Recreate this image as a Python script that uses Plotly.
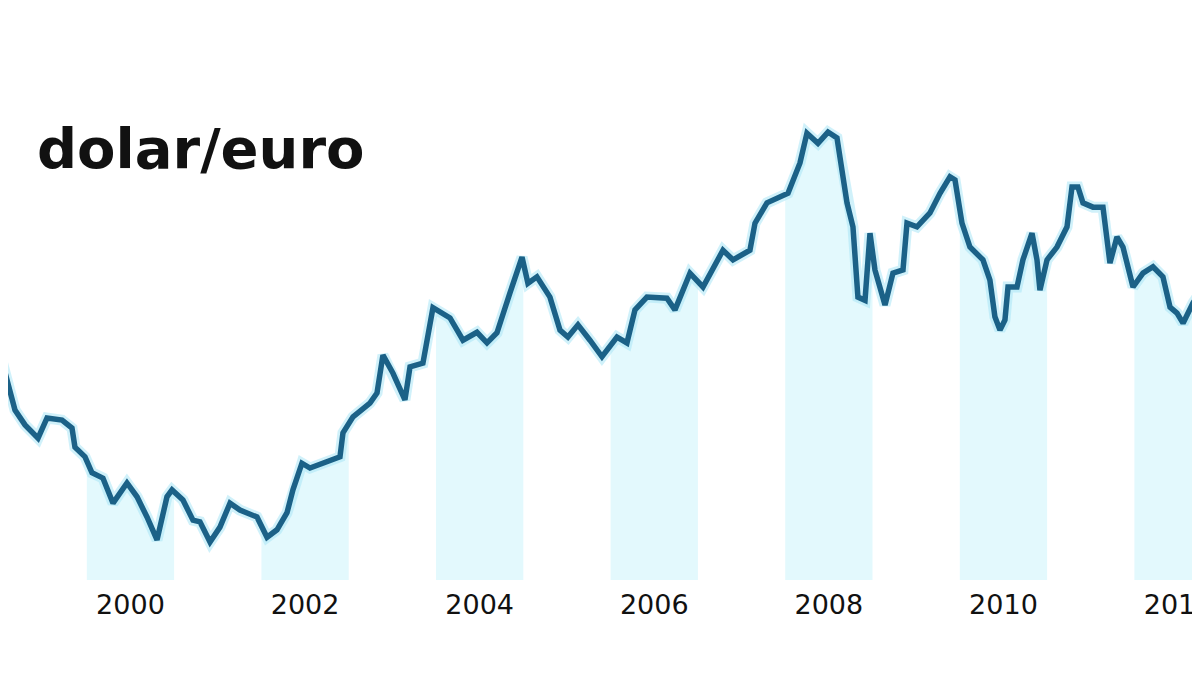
import numpy as np
import plotly.graph_objects as go

# Tipo de cambio dólar/euro (años decimales, USD por EUR)
fechas = [
    1999.025, 1999.085, 1999.177, 1999.292, 1999.441, 1999.544, 1999.716, 1999.830,
    1999.864, 1999.979, 2000.059, 2000.185, 2000.300, 2000.460, 2000.575, 2000.689,
    2000.804, 2000.918, 2000.976, 2001.101, 2001.216, 2001.296, 2001.411, 2001.525,
    2001.640, 2001.754, 2001.949, 2002.064, 2002.178, 2002.293, 2002.361, 2002.464,
    2002.556, 2002.900, 2002.934, 2003.049, 2003.243, 2003.324, 2003.392, 2003.507,
    2003.644, 2003.702, 2003.850, 2003.965, 2004.160, 2004.309, 2004.469, 2004.584,
    2004.698, 2004.847, 2004.985, 2005.053, 2005.156, 2005.305, 2005.420, 2005.511,
    2005.626, 2005.763, 2005.901, 2006.073, 2006.187, 2006.279, 2006.416, 2006.645,
    2006.737, 2006.909, 2007.058, 2007.287, 2007.402, 2007.596, 2007.654, 2007.791,
    2007.940, 2008.032, 2008.169, 2008.249, 2008.375, 2008.490, 2008.593, 2008.708,
    2008.776, 2008.833, 2008.914, 2008.971, 2009.028, 2009.143, 2009.234, 2009.349,
    2009.395, 2009.509, 2009.658, 2009.773, 2009.887, 2009.945, 2010.025, 2010.116,
    2010.265, 2010.345, 2010.402, 2010.460, 2010.517, 2010.552, 2010.655, 2010.723,
    2010.827, 2010.884, 2010.918, 2010.999, 2011.113, 2011.228, 2011.285, 2011.353,
    2011.411, 2011.525, 2011.640, 2011.720, 2011.800, 2011.869, 2011.984, 2012.098,
    2012.213, 2012.327, 2012.408, 2012.488, 2012.557, 2012.671, 2012.751,
]
dolar_euro = [
    1.172, 1.134, 1.078, 1.050, 1.025, 1.063, 1.059, 1.044,
    1.008, 0.990, 0.960, 0.950, 0.903, 0.941, 0.915, 0.877,
    0.834, 0.915, 0.928, 0.909, 0.871, 0.868, 0.830, 0.858,
    0.903, 0.890, 0.877, 0.839, 0.853, 0.885, 0.928, 0.978,
    0.969, 0.990, 1.035, 1.065, 1.091, 1.110, 1.181, 1.147,
    1.097, 1.159, 1.166, 1.270, 1.251, 1.209, 1.224, 1.204,
    1.223, 1.298, 1.365, 1.316, 1.328, 1.290, 1.228, 1.215,
    1.238, 1.209, 1.178, 1.215, 1.204, 1.266, 1.290, 1.288,
    1.266, 1.335, 1.309, 1.378, 1.360, 1.378, 1.429, 1.467,
    1.478, 1.485, 1.542, 1.598, 1.579, 1.600, 1.589, 1.467,
    1.422, 1.290, 1.284, 1.410, 1.341, 1.275, 1.335, 1.341,
    1.429, 1.422, 1.448, 1.485, 1.516, 1.510, 1.429, 1.384,
    1.360, 1.322, 1.253, 1.228, 1.247, 1.309, 1.309, 1.360,
    1.410, 1.360, 1.303, 1.360, 1.384, 1.422, 1.497, 1.497,
    1.467, 1.459, 1.459, 1.354, 1.403, 1.384, 1.309, 1.335,
    1.347, 1.328, 1.271, 1.260, 1.241, 1.279, 1.298,
]
anios = [2000, 2002, 2004, 2006, 2008, 2010, 2012]
etiquetas = [str(a) for a in anios]

fechas_arr = np.array(fechas)
valores_arr = np.array(dolar_euro)

fig = go.Figure()

# Sombreado bajo la curva en los años pares
for a in anios:
    ini, fin = a, min(a + 1, fechas_arr[-1])
    dentro = (fechas_arr > ini) & (fechas_arr < fin)
    xs = np.concatenate([[ini], fechas_arr[dentro], [fin]])
    ys = np.interp(xs, fechas_arr, valores_arr)
    fig.add_trace(go.Scatter(
        x=xs, y=ys, mode="lines", fill="tozeroy",
        fillcolor="#e3f9fd", line=dict(width=0),
        hoverinfo="skip", showlegend=False,
    ))

# Halo suave alrededor de la línea
fig.add_trace(go.Scatter(
    x=fechas, y=dolar_euro, mode="lines",
    line=dict(color="rgba(170,230,245,0.55)", width=11),
    hoverinfo="skip", showlegend=False,
))

fig.add_trace(go.Scatter(
    x=fechas, y=dolar_euro, mode="lines",
    line=dict(color="#1b6187", width=5.5),
    name="dolar/euro", showlegend=False,
))

fig.add_annotation(
    text="dolar/euro", xref="paper", yref="paper",
    x=27 / 1200, y=1 - 141 / 572, xanchor="left", yanchor="middle",
    showarrow=False,
    font=dict(family="DejaVu Sans", size=56, color="#111111", weight="bold"),
)

fig.update_layout(
    width=1200, height=675,
    margin=dict(l=0, r=0, t=0, b=103, autoexpand=False),
    paper_bgcolor="white", plot_bgcolor="white",
    showlegend=False,
)
fig.update_xaxes(
    range=[1999.097, 2012.843],
    tickvals=[a + 0.5 for a in anios], ticktext=etiquetas,
    tickfont=dict(family="DejaVu Sans", size=27, color="#111111"),
    ticks="", showgrid=False, zeroline=False, showline=False,
    automargin=False, ticklabelstandoff=6, ticklabeloverflow="allow",
)
fig.update_yaxes(range=[0.7587, 1.833], visible=False, automargin=False)

fig.write_html("out.html")
